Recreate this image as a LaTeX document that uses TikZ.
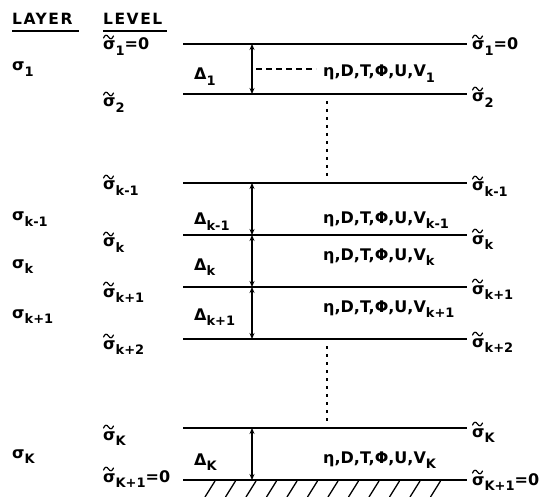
\documentclass[tikz,border=0pt]{standalone}
\usepackage{fontspec}
\setmainfont{DejaVu Sans}
\usetikzlibrary{arrows.meta,calc}
\newcommand{\sbs}[1]{\raisebox{-0.6ex}{\fontsize{13}{13}\selectfont #1}}
\newcommand{\vars}{η,D,T,Φ,U,V}
\begin{document}
\begin{tikzpicture}[x=1pt,y=-1pt,
  lvl/.style={line width=1.6pt},
  dz/.style={line width=1.4pt,{Stealth[length=6pt,width=5pt]}-{Stealth[length=6pt,width=5pt]}},
  lab/.style={anchor=base west,inner sep=0pt,font=\bfseries\fontsize{16}{17}\selectfont},
  head/.style={anchor=base west,inner sep=0pt,font=\bfseries\fontsize{15.5}{16}\selectfont\addfontfeature{LetterSpace=10}},
  dots/.style={line width=1.3pt,dash pattern=on 3pt off 5pt},
  hatch/.style={line width=1.3pt},
  tl/.pic={\draw[line width=1.2pt,line cap=round] (0,1) .. controls (1.5,-2.5) and (3.5,-2.5) .. (5,0) .. controls (6.5,2.5) and (8.5,2.5) .. (10,-1);}]
\useasboundingbox (0,0) rectangle (546,497);
% level lines
\foreach \n/\y in {a/44,b/94,c/183,d/235,e/287,f/339,g/428,h/480}{
  \coordinate (\n w) at (183,\y);
  \coordinate (\n e) at (467,\y);
  \coordinate (\n m) at (252,\y);
  \draw[lvl] (\n w) -- (\n e);
}
% double arrows
\draw[dz] (am) -- (bm);
\draw[dz] (cm) -- (dm);
\draw[dz] (dm) -- (em);
\draw[dz] (em) -- (fm);
\draw[dz] (gm) -- (hm);
% dashed connector
\coordinate (dsA) at (256,69);
\coordinate (dsB) at (316,69);
\draw[line width=1.2pt,dash pattern=on 6pt off 4pt] (dsA) -- (dsB);
% dotted verticals
\coordinate (v1a) at (327,101);
\coordinate (v1b) at (327,177);
\coordinate (v2a) at (327,346);
\coordinate (v2b) at (327,422);
\draw[dots] (v1a) -- (v1b);
\draw[dots] (v2a) -- (v2b);
% hatch
\foreach \i in {0,...,11}{
  \coordinate (hb\i) at ({205+20.5*\i},497);
  \coordinate (ht\i) at ({215+20.5*\i},481);
  \draw[hatch] (hb\i) -- (ht\i);
}
% headings
\node[head] (hlayer) at (12,25) {LAYER};
\node[head] (hlevel) at (103,25) {LEVEL};
\coordinate (u1a) at (12,31); \coordinate (u1b) at (79,31);
\coordinate (u2a) at (103,31); \coordinate (u2b) at (167,31);
\draw[line width=1.2pt] (u1a) -- (u1b);
\draw[line width=1.2pt] (u2a) -- (u2b);
% layer labels
\node[lab] (s1) at (12,71) {σ\sbs{1}};
\node[lab] (skm) at (12,221) {σ\sbs{k-1}};
\node[lab] (sk) at (12,268) {σ\sbs{k}};
\node[lab] (skp) at (12,318) {σ\sbs{k+1}};
\node[lab] (sK) at (12,458) {σ\sbs{K}};
% left level labels
\node[lab] (la) at (103,50) {σ\sbs{1}=0};
\node[lab] (lb) at (103,107) {σ\sbs{2}};
\node[lab] (lc) at (103,190) {σ\sbs{k-1}};
\node[lab] (ld) at (103,247) {σ\sbs{k}};
\node[lab] (le) at (103,297) {σ\sbs{k+1}};
\node[lab] (lf) at (103,349) {σ\sbs{k+2}};
\node[lab] (lg) at (103,440) {σ\sbs{K}};
\node[lab] (lh) at (103,482) {σ\sbs{K+1}=0};
% right level labels
\node[lab] (ra) at (472,50) {σ\sbs{1}=0};
\node[lab] (rb) at (472,102) {σ\sbs{2}};
\node[lab] (rc) at (472,191) {σ\sbs{k-1}};
\node[lab] (rd) at (472,244) {σ\sbs{k}};
\node[lab] (re) at (472,294) {σ\sbs{k+1}};
\node[lab] (rf) at (472,347) {σ\sbs{k+2}};
\node[lab] (rg) at (472,437) {σ\sbs{K}};
\node[lab] (rh) at (472,485) {σ\sbs{K+1}=0};
% tildes over the level sigmas
\foreach \nn in {la,lb,lc,ld,le,lf,lg,lh,ra,rb,rc,rd,re,rf,rg,rh}{
  \pic at ($(\nn.base west)+(0.5,-13)$) {tl};
}
% thickness labels
\node[lab] (d1) at (194,80) {Δ\sbs{1}};
\node[lab] (dkm) at (194,225) {Δ\sbs{k-1}};
\node[lab] (dk) at (194,270) {Δ\sbs{k}};
\node[lab] (dkp) at (194,320) {Δ\sbs{k+1}};
\node[lab] (dK) at (194,465) {Δ\sbs{K}};
% variable labels
\node[lab] (w1) at (323,77) {\vars\sbs{1}};
\node[lab] (wkm) at (323,223) {\vars\sbs{k-1}};
\node[lab] (wk) at (323,260) {\vars\sbs{k}};
\node[lab] (wkp) at (323,312) {\vars\sbs{k+1}};
\node[lab] (wK) at (323,463) {\vars\sbs{K}};
\end{tikzpicture}
\end{document}
